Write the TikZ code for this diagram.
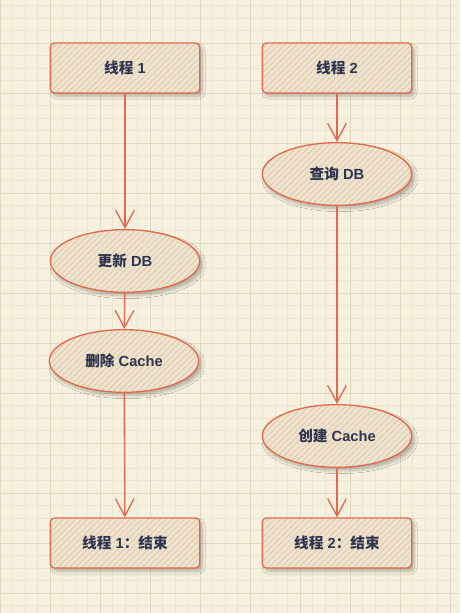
\documentclass[tikz,border=0pt]{standalone}
\usepackage{fontspec}
\setmainfont{Liberation Sans}
\newfontfamily\cjk{Noto Sans CJK SC}
\usetikzlibrary{arrows.meta,patterns.meta,shadows.blur,shapes.geometric}
\definecolor{bg}{HTML}{F5F1DE}
\definecolor{gminor}{HTML}{ECE6D1}
\definecolor{gmajor}{HTML}{E0D9C2}
\definecolor{lc}{HTML}{E2694F}
\definecolor{boxfill}{HTML}{E9E5D6}
\definecolor{hatch}{HTML}{F4BF82}
\definecolor{txt}{HTML}{2F3550}
\newcommand{\lab}{\fontsize{11}{13}\selectfont\bfseries}
\tikzset{
  shape base/.style={draw=lc, line width=1pt, text=txt, font=\lab,
    blur shadow={shadow xshift=2pt, shadow yshift=-2.5pt, shadow blur steps=8, shadow blur extra rounding=2pt, shadow opacity=25},
    preaction={fill=boxfill},
    pattern={Lines[angle=45, distance=3.2pt, line width=0.5pt]}, pattern color=hatch},
  boxnode/.style={shape base, rectangle, rounded corners=3pt, minimum width=112pt, minimum height=37.5pt},
  ellnode/.style={shape base, ellipse, minimum width=112pt, minimum height=47pt, inner sep=0pt},
  flow/.style={draw=lc, line width=1pt, -{Straight Barb[length=13pt, width=14pt, line width=1pt]}}
}
\begin{document}
\begin{tikzpicture}[x=0.75pt, y=-0.75pt]
\useasboundingbox (0,0) rectangle (460,613);
\fill[bg] (0,0) rectangle (460,613);
% minor grid
\foreach \i in {0,...,37} {
  \draw[gminor, line width=0.5pt] ({\i*12.5},0) -- ({\i*12.5},613);
}
\foreach \j in {0,...,49} {
  \draw[gminor, line width=0.5pt] (0,{5.8+\j*12.5}) -- (460,{5.8+\j*12.5});
}
% major grid
\foreach \i in {0,...,9} {
  \draw[gmajor, line width=0.7pt] ({\i*50},0) -- ({\i*50},613);
}
\foreach \j in {0,...,12} {
  \draw[gmajor, line width=0.7pt] (0,{43.3+\j*50}) -- (460,{43.3+\j*50});
}

\node[boxnode] (t1) at (125,68) {{\cjk 线程} 1};
\node[boxnode] (t2) at (337,68) {{\cjk 线程} 2};
\node[ellnode] (q) at (337,174) {{\cjk 查询} DB};
\node[ellnode] (u) at (125,261) {{\cjk 更新} DB};
\node[ellnode] (d) at (124,361) {{\cjk 删除} Cache};
\node[ellnode] (c) at (337,436) {{\cjk 创建} Cache};
\node[boxnode] (e1) at (125,543) {{\cjk 线程} 1{\cjk ：结束}};
\node[boxnode] (e2) at (337,543) {{\cjk 线程} 2{\cjk ：结束}};

\draw[flow] (t1) -- (u);
\draw[flow] (u) -- (d);
\draw[flow] (d) -- (e1);
\draw[flow] (t2) -- (q);
\draw[flow] (q) -- (c);
\draw[flow] (c) -- (e2);
\end{tikzpicture}
\end{document}
